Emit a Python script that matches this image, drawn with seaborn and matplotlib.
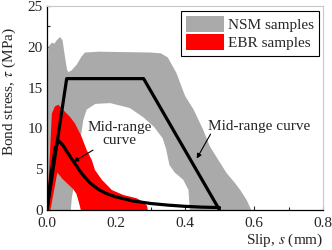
import matplotlib
matplotlib.use("Agg")
import matplotlib.pyplot as plt
import seaborn as sns
import pandas as pd

# NSM band: outer envelope (left to right) then inner white boundary (right to left)
nsm_outer_s = [0.0, 0.002, 0.004, 0.014, 0.022, 0.028, 0.038, 0.045, 0.052, 0.058, 0.062,
               0.071, 0.086, 0.100, 0.110, 0.150, 0.300, 0.330, 0.350, 0.375, 0.400, 0.425,
               0.453, 0.472, 0.497, 0.521, 0.545, 0.560, 0.579, 0.592]
nsm_outer_tau = [0.0, 15.0, 20.0, 20.5, 20.4, 20.8, 21.2, 20.8, 18.8, 17.2, 16.9,
                 17.1, 17.8, 18.8, 19.3, 19.4, 19.3, 19.2, 18.7, 16.8, 14.0, 12.3,
                 9.8, 7.8, 6.1, 4.5, 3.3, 2.45, 1.2, 0.0]
nsm_inner_s = [0.414, 0.410, 0.395, 0.370, 0.355, 0.345, 0.335, 0.310, 0.278, 0.240,
               0.183, 0.140, 0.115, 0.105, 0.100, 0.090, 0.080, 0.072, 0.069]
nsm_inner_tau = [0.0, 2.45, 3.7, 4.6, 5.5, 7.5, 8.8, 10.2, 11.4, 12.5,
                 13.1, 13.0, 12.3, 11.0, 9.5, 6.5, 3.5, 1.5, 0.0]

# EBR band: upper edge then lower edge back to origin
ebr_upper_s = [0.0, 0.009, 0.014, 0.023, 0.033, 0.047, 0.067, 0.081, 0.100, 0.115, 0.130,
               0.139, 0.159, 0.188, 0.221, 0.260, 0.279, 0.290, 0.292]
ebr_upper_tau = [0.0, 7.4, 11.8, 12.7, 12.9, 12.25, 11.4, 10.6, 9.0, 7.35, 6.1,
                 4.9, 3.7, 2.45, 1.84, 1.43, 1.0, 0.5, 0.0]
ebr_lower_s = [0.098, 0.092, 0.085, 0.075, 0.060, 0.045, 0.030, 0.010]
ebr_lower_tau = [0.0, 1.0, 2.0, 2.6, 3.2, 3.8, 4.6, 0.0]

# mid-range curves
nsm_mid_s = [0.0, 0.057, 0.28, 0.50]
nsm_mid_tau = [0.0, 16.1, 16.1, 0.0]
ebr_mid_s = [0.0, 0.012, 0.024, 0.033, 0.045, 0.060, 0.076, 0.100, 0.125, 0.150, 0.173,
             0.200, 0.250, 0.300, 0.350, 0.400, 0.450, 0.500]
ebr_mid_tau = [0.0, 4.5, 7.6, 8.5, 8.0, 7.0, 6.0, 4.5, 3.3, 2.5, 2.0,
               1.6, 1.1, 0.8, 0.6, 0.45, 0.35, 0.3]

sns.set_theme(style="ticks")
plt.rcParams["font.family"] = ["Liberation Serif", "DejaVu Serif"]
plt.rcParams["mathtext.fontset"] = "stix"
plt.rcParams["font.size"] = 11

fig = plt.figure(figsize=(3.32, 2.5), dpi=100)
ax = fig.add_axes([0.1416, 0.16, 0.8313, 0.816])

ax.fill(nsm_outer_s + nsm_inner_s, nsm_outer_tau + nsm_inner_tau,
        color="#aaaaaa", lw=0, label="NSM samples")
ax.fill(ebr_upper_s + ebr_lower_s, ebr_upper_tau + ebr_lower_tau,
        color="#ff0000", lw=0, label="EBR samples")

nsm_df = pd.DataFrame({"s": nsm_mid_s, "tau": nsm_mid_tau})
ebr_df = pd.DataFrame({"s": ebr_mid_s, "tau": ebr_mid_tau})
sns.lineplot(data=nsm_df, x="s", y="tau", sort=False, estimator=None,
             color="black", lw=2.3, ax=ax, legend=False)
sns.lineplot(data=ebr_df, x="s", y="tau", sort=False, estimator=None,
             color="black", lw=2.3, ax=ax, legend=False)

arrow = dict(arrowstyle="-|>", lw=0.8, color="black", mutation_scale=7,
             shrinkA=0, shrinkB=0)
ax.annotate("Mid-range\ncurve", xy=(0.077, 5.9), xytext=(0.21, 9.3),
            ha="center", va="center", multialignment="center",
            fontsize=11, linespacing=0.95, arrowprops=arrow)
ax.annotate("", xy=(0.434, 6.3), xytext=(0.474, 9.3), arrowprops=arrow)
ax.text(0.616, 10.2, "Mid-range curve", ha="center", va="center", fontsize=11)

ax.set_xlim(0, 0.8)
ax.set_ylim(0, 25)
ax.set_xticks([0.0, 0.2, 0.4, 0.6, 0.8])
ax.set_xticks([0.1, 0.3, 0.5, 0.7], minor=True)
ax.set_yticks([0, 5, 10, 15, 20, 25])
ax.set_yticks([2.5, 7.5, 12.5, 17.5, 22.5], minor=True)
ax.tick_params(which="both", direction="in", length=3, width=0.8, labelsize=11)
ax.tick_params(axis="x", which="both", pad=5)
ax.tick_params(axis="y", which="both", pad=3)
ax.tick_params(which="minor", length=2)
for side in ["left", "bottom"]:
    ax.spines[side].set_color("black")
    ax.spines[side].set_linewidth(0.9)
for side in ["top", "right"]:
    ax.spines[side].set_color("#c8c8c8")
    ax.spines[side].set_linewidth(0.8)

ax.set_xlabel("Slip, $\\it{s}$ (mm)", fontsize=11)
ax.xaxis.set_label_coords(1.0, -0.147)
ax.xaxis.label.set_horizontalalignment("right")
ax.xaxis.label.set_verticalalignment("center")
ax.set_ylabel("Bond stress, $\\tau$ (MPa)", fontsize=11)
ax.yaxis.set_label_coords(-0.105, 0.58)

leg = ax.legend(loc="upper right", bbox_to_anchor=(0.985, 0.975), borderaxespad=0,
                fancybox=False, framealpha=1, edgecolor="black",
                handlelength=2.5, handleheight=1.15, handletextpad=0.2,
                labelspacing=0.15, borderpad=0.35, fontsize=11)
leg.get_frame().set_linewidth(0.8)

fig.savefig("out.png", dpi=100)
